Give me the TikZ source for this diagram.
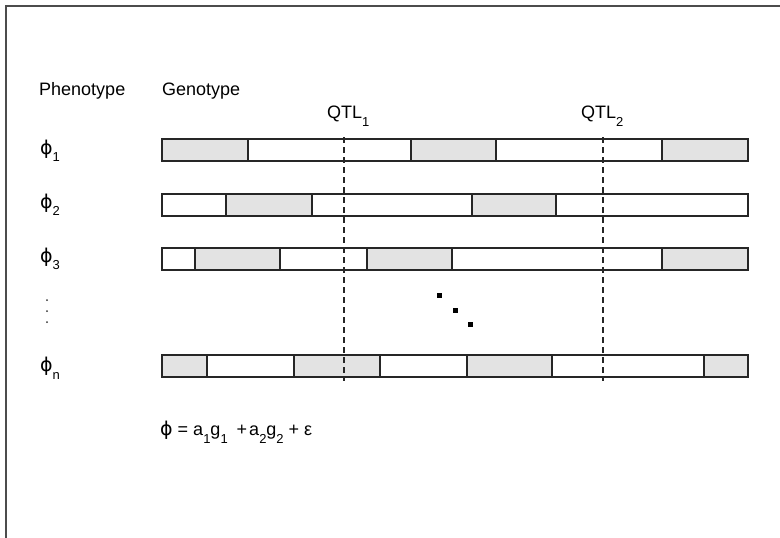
\documentclass[tikz,border=0pt]{standalone}
\usepackage{fontspec}
\setmainfont{Liberation Sans}
\newfontfamily\greekf{DejaVu Sans}
\newcommand\lowsub[1]{\raisebox{-0.42em}{\fontsize{13}{13}\selectfont #1}}
\newcommand\phisym{{\greekf\fontsize{19}{20}\selectfont ϕ}}
\begin{document}
\begin{tikzpicture}[x=1pt,y=-1pt,
  lbl/.style={inner sep=0pt, font=\fontsize{18}{20}\selectfont},
  seg/.style={draw=black!85, line width=1.6pt},
  gseg/.style={seg, fill=gray!22},
  wseg/.style={seg, fill=white},
  qtl/.style={draw=black!85, line width=1.3pt, dash pattern=on 6pt off 4pt},
  bigdot/.style={fill=black, inner sep=0pt, minimum size=5pt, rectangle},
  smalldot/.style={fill=black!80, inner sep=0pt, minimum size=2pt, circle}]
\useasboundingbox (0,0) rectangle (780,538);
% frame edges
\draw[line width=1.3pt, black!70] (6,538) -- (6,6) -- (780,6);

% column headings
\node[lbl, anchor=west] (phenohead) at (39,91) {Phenotype};
\node[lbl, anchor=west] (genohead) at (162,91) {Genotype};

% chromosome 1
\foreach \a/\b/\s in {162/248/gseg, 248/411/wseg, 411/496/gseg, 496/662/wseg, 662/748/gseg}
  \draw[\s] (\a,139) rectangle (\b,161);
% chromosome 2
\foreach \a/\b/\s in {162/226/wseg, 226/312/gseg, 312/472/wseg, 472/556/gseg, 556/748/wseg}
  \draw[\s] (\a,194) rectangle (\b,216);
% chromosome 3
\foreach \a/\b/\s in {162/195/wseg, 195/280/gseg, 280/367/wseg, 367/452/gseg, 452/662/wseg, 662/748/gseg}
  \draw[\s] (\a,248) rectangle (\b,270);
% chromosome n
\foreach \a/\b/\s in {162/207/gseg, 207/294/wseg, 294/380/gseg, 380/467/wseg, 467/552/gseg, 552/704/wseg, 704/748/gseg}
  \draw[\s] (\a,355) rectangle (\b,377);

% QTL positions
\coordinate (q1top) at (344,137);
\coordinate (q1bot) at (344,381);
\coordinate (q2top) at (603,137);
\coordinate (q2bot) at (603,381);
\draw[qtl] (q1top) -- (q1bot);
\draw[qtl] (q2top) -- (q2bot);
\node[lbl, anchor=west] (qtl1) at (327,116) {QTL\lowsub{1}};
\node[lbl, anchor=west] (qtl2) at (581,116) {QTL\lowsub{2}};

% phenotype labels
\node[lbl, anchor=west] (p1) at (40,151) {\phisym\lowsub{1}};
\node[lbl, anchor=west] (p2) at (40,205) {\phisym\lowsub{2}};
\node[lbl, anchor=west] (p3) at (40,259) {\phisym\lowsub{3}};
\node[lbl, anchor=west] (pn) at (40,368) {\phisym\lowsub{n}};

% vertical ellipsis
\node[smalldot] (v1) at (47,300) {};
\node[smalldot] (v2) at (47,311) {};
\node[smalldot] (v3) at (47,322) {};

% diagonal ellipsis
\node[bigdot] (d1) at (439,295) {};
\node[bigdot] (d2) at (455,310) {};
\node[bigdot] (d3) at (470,324) {};

% model
\node[lbl, anchor=west] (model) at (160,432)
  {\phisym\ = a\lowsub{1}g\lowsub{1}\hspace{9pt}+\hspace{2pt}a\lowsub{2}g\lowsub{2}\ + ε};
\end{tikzpicture}
\end{document}
